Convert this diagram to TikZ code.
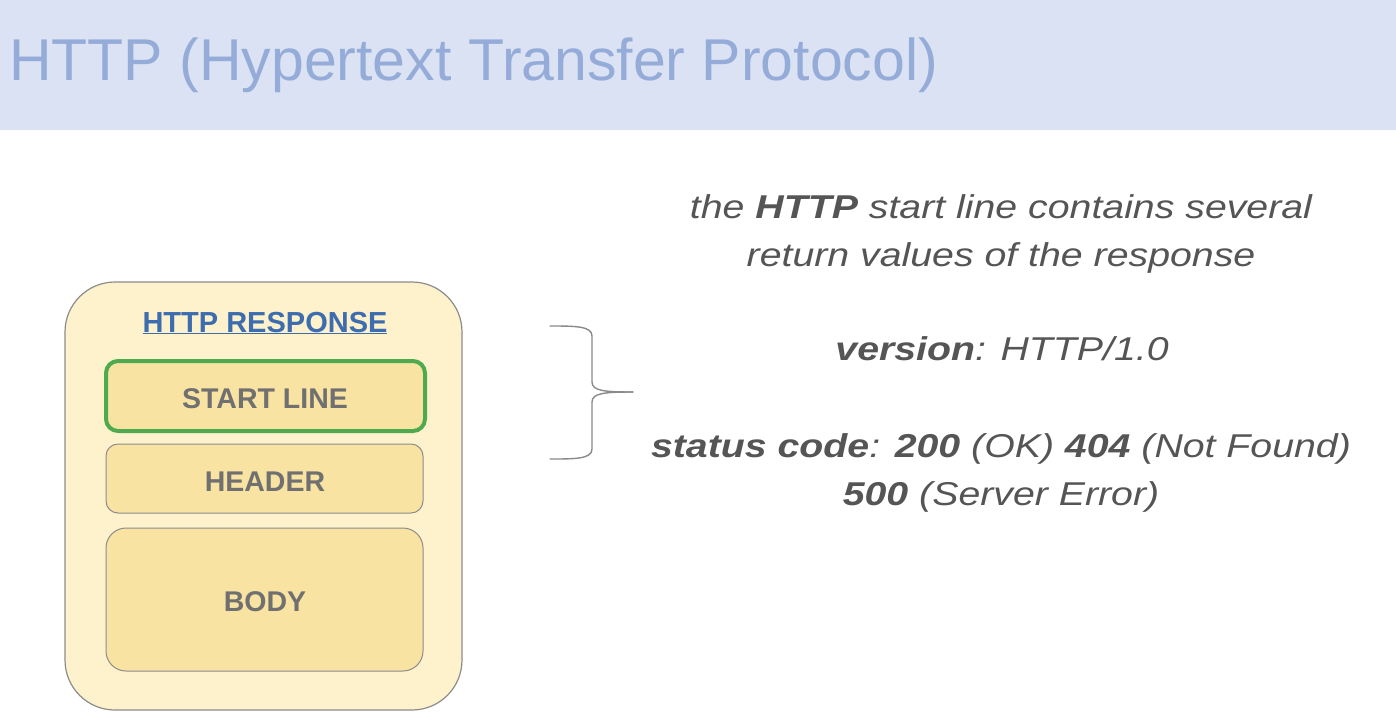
\documentclass[tikz,border=0pt]{standalone}
\usepackage{fontspec}
\setmainfont{Liberation Sans}
\usepackage{graphicx}
\definecolor{band}{HTML}{DAE2F3}
\definecolor{titlec}{HTML}{95ACD9}
\definecolor{outerfill}{HTML}{FDF2CC}
\definecolor{innerfill}{HTML}{F9E3A2}
\definecolor{boxline}{HTML}{8C8C8C}
\definecolor{greenline}{HTML}{4EAA4E}
\definecolor{resp}{HTML}{3E6DAF}
\definecolor{boxtext}{HTML}{707070}
\definecolor{bodytext}{HTML}{555555}
\definecolor{bracec}{HTML}{8A8A8A}
\tikzset{
  partbox/.style={draw=boxline, line width=1pt, fill=innerfill, rounded corners=12pt, inner sep=0pt},
  parttext/.style={anchor=base, text=boxtext, font=\fontsize{28.5}{30}\selectfont\bfseries},
  rtext/.style={anchor=base, text=bodytext, font=\fontsize{33}{36}\selectfont\itshape},
}
\newcommand{\wide}[1]{\scalebox{1.19}[1]{#1}}
\begin{document}
\begin{tikzpicture}[x=1pt,y=-1pt]
\useasboundingbox (0,0) rectangle (1396,726);
\fill[white] (0,0) rectangle (1396,726);
\fill[band] (0,0) rectangle (1396,130);
\node[anchor=base west, inner sep=0pt, text=titlec, font=\fontsize{59}{62}\selectfont] (title) at (9,80) {HTTP (Hypertext Transfer Protocol)};

% outer container
\node[draw=boxline, line width=1.2pt, fill=outerfill, rounded corners=50pt, minimum width=397pt, minimum height=428pt, inner sep=0pt] (outer) at (263.5,496) {};
\node[anchor=base, text=resp, font=\fontsize{29}{31}\selectfont\bfseries, inner sep=0pt] (resptitle) at (265,332) {\underline{HTTP RESPONSE}};

\node[partbox, draw=greenline, line width=4pt, minimum width=319pt, minimum height=70pt] (start) at (265.5,396) {};
\node[parttext, inner sep=0pt] (starttxt) at (265,408) {START LINE};

\node[partbox, minimum width=317pt, minimum height=69pt] (header) at (264.5,478.5) {};
\node[parttext, inner sep=0pt] (headertxt) at (265,491) {HEADER};

\node[partbox, rounded corners=20pt, minimum width=317pt, minimum height=143pt] (body) at (264.5,599.5) {};
\node[parttext, inner sep=0pt] (bodytxt) at (265,611) {BODY};

% brace
\coordinate (bt) at (550,326);
\coordinate (bb) at (550,459);
\coordinate (tip) at (633,392);
\draw[bracec, line width=1.4pt, line cap=round]
  (bt) .. controls (575,326) and (592,326) .. (592,336)
  -- (592,382) .. controls (592,391) and (605,392) .. (tip);
\draw[bracec, line width=1.4pt, line cap=round]
  (bb) .. controls (575,459) and (592,459) .. (592,449)
  -- (592,402) .. controls (592,393) and (605,392) .. (tip);

% right-hand text
\node[rtext, inner sep=0pt] (l1) at (1001,218) {\wide{the \textbf{HTTP} start line contains several}};
\node[rtext, inner sep=0pt] (l2) at (1001,266) {\wide{return values of the response}};
\node[rtext, inner sep=0pt] (l3) at (1002,360) {\wide{\textbf{version}: HTTP/1.0}};
\node[rtext, inner sep=0pt] (l4) at (1001,457) {\wide{\textbf{status code}: \textbf{200} (OK) \textbf{404} (Not Found)}};
\node[rtext, inner sep=0pt] (l5) at (1001,505) {\wide{\textbf{500} (Server Error)}};
\end{tikzpicture}
\end{document}
